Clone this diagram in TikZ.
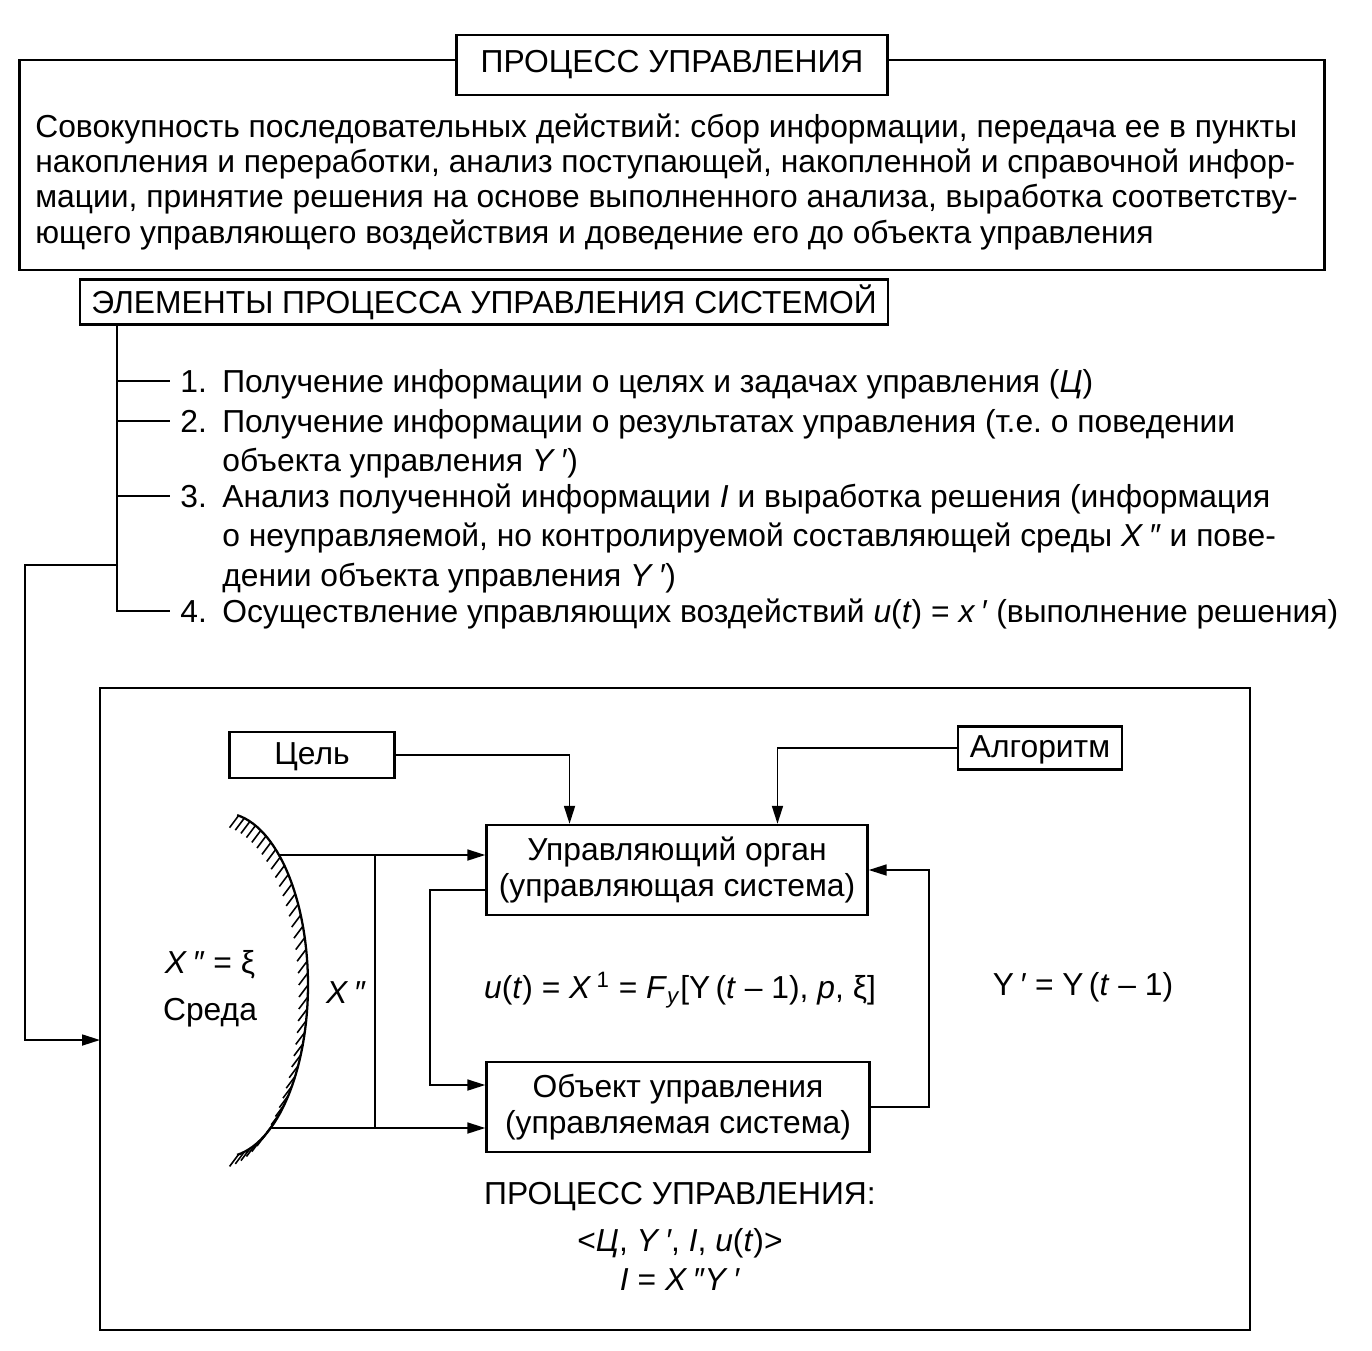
\documentclass[tikz,border=0pt]{standalone}
\usepackage{fontspec}
\setmainfont{Liberation Sans}
\usetikzlibrary{arrows.meta}

\newcommand{\onepr}{\,\textit{′}}
\newcommand{\twopr}{\,\textit{″}}

\begin{document}
\frenchspacing
\begin{tikzpicture}[
  x=0.02cm, y=-0.02cm,
  font=\fontsize{18.1}{20.2}\selectfont,
  box/.style={draw, line width=1.4pt, fill=white, inner sep=0pt, align=center},
  tag/.style={draw, line width=1.4pt, fill=white, inner sep=0pt,
    text height=12pt, text depth=1pt},
  frame/.style={draw, line width=1.4pt, inner sep=0pt},
  line/.style={line width=1pt},
  arr/.style={line width=1pt, -{Triangle[length=0.36cm, width=0.22cm]}},
  num/.style={anchor=base west, inner ysep=0pt, inner xsep=0.2cm},
  item/.style={anchor=base west, inner sep=0pt},
  hatch/.style={line width=0.9pt},
]

\useasboundingbox (0,0) rectangle (1372,1350);

\node[frame, minimum width=26.1cm, minimum height=4.2cm] (outer) at (672,165) {};
\node[box, minimum width=8.62cm, minimum height=1.2cm] (title) at (672,65)
  {ПРОЦЕСС УПРАВЛЕНИЯ};
\node[item] (desc) at (35,137) {\parbox[t]{26cm}{%
  Совокупность последовательных действий: сбор информации, передача ее в пункты\\
  накопления и переработки, анализ поступающей, накопленной и справочной инфор-\\
  мации, принятие решения на основе выполненного анализа, выработка соответству-\\
  ющего управляющего воздействия и доведение его до объекта управления}};

\node[box, minimum width=16.16cm, minimum height=0.9cm] (elem) at (484,302)
  {ЭЛЕМЕНТЫ ПРОЦЕССА УПРАВЛЕНИЯ СИСТЕМОЙ};

\tikzset{item/.append style={font=\fontsize{18.1}{22.7}\selectfont}}
\node[num] (n1) at (170,392) {1.};
\node[item] (i1) at (222,392)
  {Получение информации о целях и задачах управления (\textit{Ц})};
\node[num] (n2) at (170,432) {2.};
\node[item] (i2) at (222,432) {\parbox[t]{25cm}{%
  Получение информации о результатах управления (т.е. о поведении\\
  объекта управления \textit{Y}\onepr)}};
\node[num] (n3) at (170,507) {3.};
\node[item] (i3) at (222,507) {\parbox[t]{25cm}{%
  Анализ полученной информации \textit{I} и выработка решения (информация\\
  о неуправляемой, но контролируемой составляющей среды \textit{X}\twopr{} и пове-\\
  дении объекта управления \textit{Y}\onepr)}};
\node[num] (n4) at (170,622) {4.};
\node[item] (i4) at (222,622)
  {Осуществление управляющих воздействий \textit{u}(\textit{t}) = \textit{x}\onepr{} (выполнение решения)};

\coordinate (tr) at ([xshift=0.76cm]elem.south west);
\draw[line] (tr) |- (n4.west);
\foreach \i in {1,2,3}
  \draw[line] (tr |- n\i.west) -- (n\i.west);

\node[frame, minimum width=23cm, minimum height=12.84cm] (sys) at (675,1009) {};

\coordinate (fb) at (118,565);
\coordinate (fbin) at (100,1040);
\draw[arr] (fb) -- (25,565) |- (fbin);

\node[tag, minimum width=3.3cm, minimum height=0.92cm] (goal) at (312,755) {Цель};
\node[tag, minimum width=3.28cm, minimum height=0.86cm] (algo) at (1040,748) {Алгоритм};
\node[box, minimum width=7.62cm, minimum height=1.8cm] (ctrl) at (677,870)
  {Управляющий орган\\(управляющая система)};
\node[box, minimum width=7.66cm, minimum height=1.8cm] (obj) at (678,1107)
  {Объект управления\\(управляемая система)};

\draw[line, line width=1.3pt] plot[domain=-81:81, samples=60]
  ({224+84*cos(\x)},{985+172*sin(\x)});
\foreach \t in {-80,-76,...,80}
  \draw[hatch] ({224+84*cos(\t)},{985+172*sin(\t)}) -- ++(-9,12);

\coordinate (envT) at (279,855);
\coordinate (envB) at (271,1128);
\coordinate (xv) at (375,0);

\draw[arr] (envT) -- (envT -| ctrl.west);
\draw[arr] (envB) -- (envB -| obj.west);
\draw[line] (envT -| xv) -- (envB -| xv);

\draw[arr] (goal.east) -| ([xshift=-2.15cm]ctrl.north);
\draw[arr] (algo.west) -| ([xshift=2.01cm]ctrl.north);
\draw[arr] ([yshift=-0.4cm]ctrl.west) -- ++(-1.1cm,0) |- ([yshift=0.44cm]obj.west);
\draw[arr] (obj.east) -- ++(1.16cm,0) |- (ctrl.east);

\node (xeq) at (210,965) {\textit{X}\twopr{} = ξ};
\node (env) at (210,1013) {Среда};
\node (xlab) at (346,993) {\textit{X}\twopr};

\node (law) at (680,990)
  {\textit{u}(\textit{t}) = \textit{X}\,\textsuperscript{1} = \textit{F}\textsubscript{\textit{y}}[Y\,(\textit{t} – 1), \textit{p}, ξ]};
\node (fbk) at (1083,987) {Y\onepr{} = Y\,(\textit{t} – 1)};

\node (proc) at (680,1197) {ПРОЦЕСС УПРАВЛЕНИЯ:};
\node (tuple) at (680,1243)
  {<\textit{Ц}, \textit{Y}\onepr, \textit{I}, \textit{u}(\textit{t})>};
\node (info) at (680,1280) {\textit{I} = \textit{X}\twopr\textit{Y}\onepr};

\end{tikzpicture}
\end{document}
